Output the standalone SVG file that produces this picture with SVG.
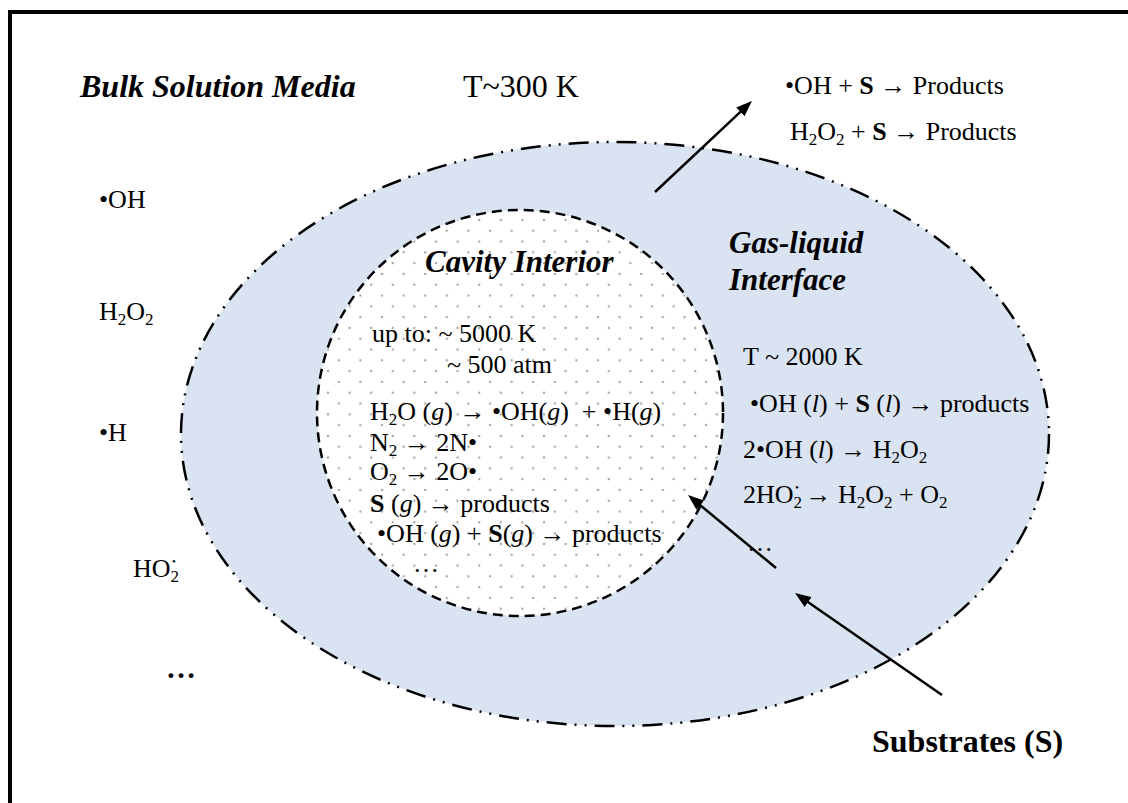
<svg xmlns="http://www.w3.org/2000/svg" width="1128" height="803" viewBox="0 0 1128 803">
<defs>
<style>
text{font-family:'Liberation Serif','Times New Roman',serif;fill:#000}
.n{font-size:26px}
.big{font-size:32px}
.bi{font-weight:bold;font-style:italic;font-size:31px}
.b{font-weight:bold}
.i{font-style:italic}
.sub{font-size:17px;baseline-shift:-5px}
.rad{font-size:11px;baseline-shift:12px}
.conn line{stroke:#000;stroke-width:2.5;fill:none;marker-end:url(#ah)}
</style>
<pattern id="dots" patternUnits="userSpaceOnUse" width="21.6" height="21.6">
<circle cx="4" cy="4" r="1.2" fill="#a6a6a6"/>
<circle cx="14.8" cy="14.8" r="1.2" fill="#a6a6a6"/>
</pattern>
<marker id="ah" viewBox="0 0 16 12" refX="6" refY="6" markerWidth="16" markerHeight="12" markerUnits="userSpaceOnUse" orient="auto">
<path d="M0,0 L16,6 L0,12 z" fill="#000"/>
</marker>
</defs>
<rect width="1128" height="803" fill="#fff"/>
<path d="M10,803 V12 H1128" fill="none" stroke="#000" stroke-width="4"/>

<g id="bulk">
<text x="80" y="97" class="bi" style="font-size:32px">Bulk Solution Media</text>
<text x="463" y="97" class="big">T~300 K</text>
<text x="99" y="208" class="n">•OH</text>
<text x="99" y="320" class="n">H<tspan class="sub">2</tspan>O<tspan class="sub">2</tspan></text>
<text x="99" y="441" class="n">•H</text>
<text x="133" y="577" class="n">HO<tspan class="sub">2</tspan><tspan class="rad" dx="-7">•</tspan></text>
<text x="166" y="678" class="b" style="font-size:30px">…</text>
<text x="785" y="94" class="n">•OH + <tspan class="b">S</tspan> → Products</text>
<text x="790" y="140" class="n">H<tspan class="sub">2</tspan>O<tspan class="sub">2</tspan> + <tspan class="b">S</tspan> → Products</text>
</g>

<g id="interface">
<ellipse cx="615" cy="434" rx="434" ry="292" fill="#dae3f1" stroke="#000" stroke-width="2.5" stroke-dasharray="20 8 2 8 2 8"/>
<text x="729" y="253" class="bi">Gas-liquid</text>
<text x="729" y="290" class="bi">Interface</text>
<text x="743" y="365" class="n">T ~ 2000 K</text>
<text x="750" y="412" class="n">•OH (<tspan class="i">l</tspan>) + <tspan class="b">S</tspan> (<tspan class="i">l</tspan>) → products</text>
<text x="743" y="458" class="n">2•OH (<tspan class="i">l</tspan>) → H<tspan class="sub">2</tspan>O<tspan class="sub">2</tspan></text>
<text x="743" y="503" class="n">2HO<tspan class="sub">2</tspan><tspan class="rad" dx="-7">•</tspan> → H<tspan class="sub">2</tspan>O<tspan class="sub">2</tspan> + O<tspan class="sub">2</tspan></text>
<text x="747" y="551" class="n">…</text>
</g>

<g id="cavity">
<circle cx="520" cy="413" r="203" fill="#fff"/>
<circle cx="520" cy="413" r="203" fill="url(#dots)" stroke="#000" stroke-width="2.5" stroke-dasharray="10 6"/>
<text x="425" y="272" class="bi">Cavity Interior</text>
<text x="372" y="342" class="n">up to: ~ 5000 K</text>
<text x="447" y="373" class="n">~ 500 atm</text>
<text x="370" y="420" class="n">H<tspan class="sub">2</tspan>O (<tspan class="i">g</tspan>) → •OH(<tspan class="i">g</tspan>)&#160; + •H(<tspan class="i">g</tspan>)</text>
<text x="370" y="451" class="n">N<tspan class="sub">2</tspan> → 2N•</text>
<text x="370" y="480" class="n">O<tspan class="sub">2</tspan> → 2O•</text>
<text x="370" y="512" class="n"><tspan class="b">S</tspan> (<tspan class="i">g</tspan>) → products</text>
<text x="377" y="542" class="n">•OH (<tspan class="i">g</tspan>) + <tspan class="b">S</tspan>(<tspan class="i">g</tspan>) → products</text>
<text x="413" y="572" class="n">…</text>
</g>

<g id="substrates">
<text x="872" y="752" class="big b">Substrates (S)</text>
</g>

<g id="connectors" class="conn">
<line x1="655" y1="192" x2="744.7" y2="107.8"/>
<line x1="776" y1="568" x2="695.7" y2="501.4"/>
<line x1="942" y1="695" x2="803.2" y2="598.7"/>
</g>
</svg>
